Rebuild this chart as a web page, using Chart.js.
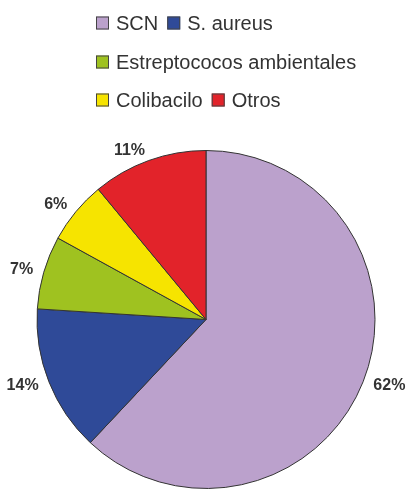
<!DOCTYPE html>
<html>
<head>
<meta charset="utf-8">
<script src="https://cdn.jsdelivr.net/npm/chart.js@4"></script>
<style>
  html, body { margin: 0; padding: 0; background: #fff; }
  #wrap { width: 407px; height: 489px; }
</style>
</head>
<body>
<div id="wrap"><canvas id="myChart"></canvas></div>
<script>
const labels = ["SCN", "S. aureus", "Estreptococos ambientales", "Colibacilo", "Otros"];
const values = [62, 14, 7, 6, 11];
const colors = ["#BBA1CC", "#2F4A98", "#9FC220", "#F6E400", "#E2232A"];
// which legend items share a row
const legendRows = [[0, 1], [2], [3, 4]];

// legend drawn by hand so the rows sit left aligned like the original
const legendPlugin = {
  id: "customLegend",
  afterDraw(chart) {
    const c = chart.ctx;
    c.save();
    c.font = "20px 'Liberation Sans', Arial, sans-serif";
    c.textBaseline = "middle";
    const rowY = [23, 62, 100];
    legendRows.forEach((row, r) => {
      let x = 96;
      const y = rowY[r];
      row.forEach((i) => {
        c.fillStyle = colors[i];
        c.fillRect(x, y - 6.5, 13, 13);
        c.strokeStyle = "#444";
        c.lineWidth = 1;
        c.strokeRect(x + 0.5, y - 6, 12, 12);
        x += 20;
        c.fillStyle = "#333";
        c.fillText(labels[i], x, y + 1);
        x += c.measureText(labels[i]).width + 9;
      });
    });
    c.restore();
  }
};

// percentage labels outside each slice
const pctPlugin = {
  id: "pctLabels",
  afterDatasetsDraw(chart) {
    const c = chart.ctx;
    const meta = chart.getDatasetMeta(0);
    c.save();
    c.font = "bold 16px 'Liberation Sans', Arial, sans-serif";
    c.fillStyle = "#333";
    c.textBaseline = "middle";
    meta.data.forEach((arc, i) => {
      const mid = (arc.startAngle + arc.endAngle) / 2;
      const r = arc.outerRadius + 11;
      const cos = Math.cos(mid), sin = Math.sin(mid);
      const x = arc.x + r * cos;
      const y = arc.y + r * sin;
      c.textAlign = cos > 0.3 ? "left" : (cos < -0.3 ? "right" : "center");
      c.fillText(values[i] + "%", x, y);
    });
    c.restore();
  }
};

const ctx = document.getElementById("myChart");
new Chart(ctx, {
  type: "pie",
  data: {
    labels: labels,
    datasets: [{
      data: values,
      backgroundColor: colors,
      borderColor: "#333",
      borderWidth: 1,
    }]
  },
  options: {
    responsive: true,
    maintainAspectRatio: false,
    animation: false,
    layout: { padding: { top: 150, left: 5, right: 0, bottom: 0 } },
    plugins: {
      legend: { display: false },
      tooltip: { enabled: false },
    },
  },
  plugins: [legendPlugin, pctPlugin],
});
</script>
</body>
</html>
